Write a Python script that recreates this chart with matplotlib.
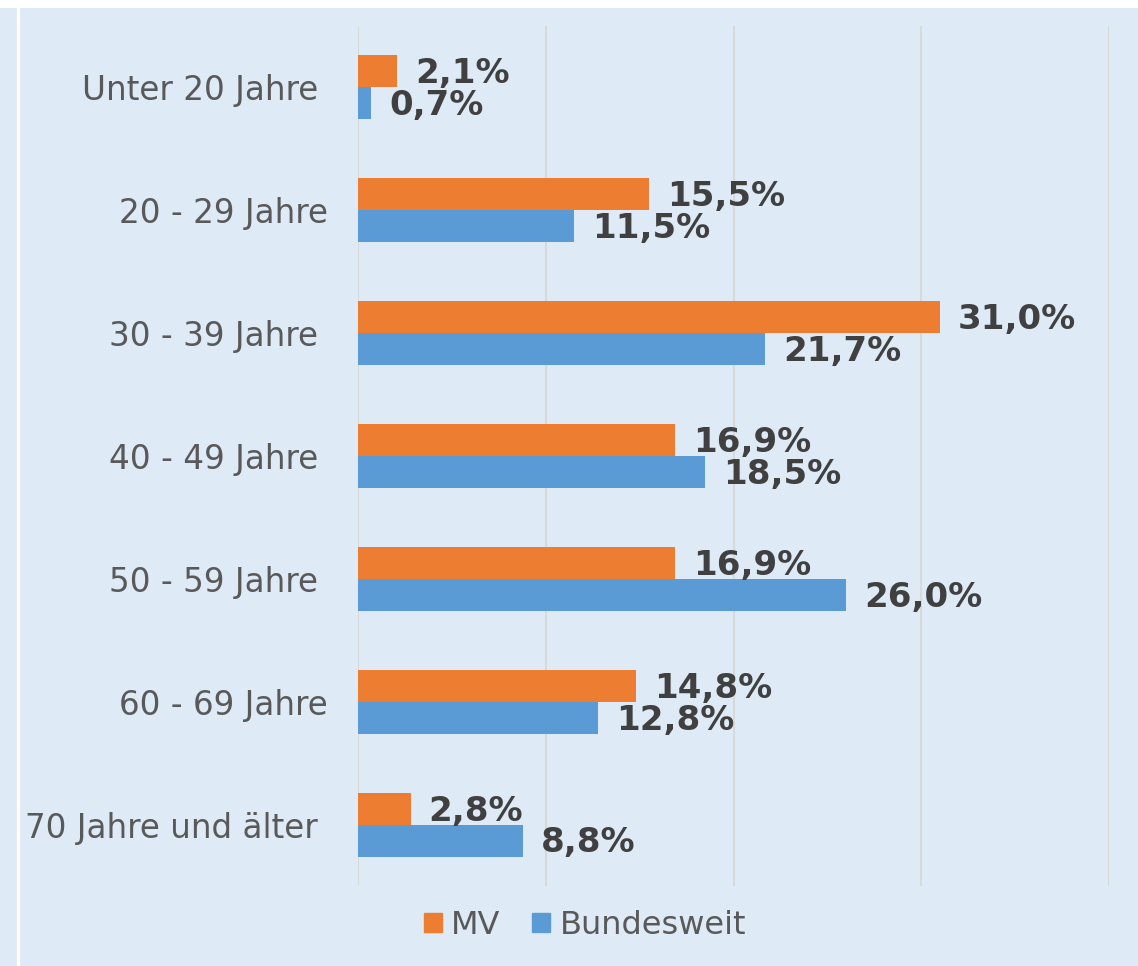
import numpy as np
import matplotlib
matplotlib.use('Agg')
import matplotlib.pyplot as plt
from matplotlib.patches import Patch

categories = ['Unter 20 Jahre ', '20 - 29 Jahre', '30 - 39 Jahre ', '40 - 49 Jahre ',
              '50 - 59 Jahre ', '60 - 69 Jahre', '70 Jahre und älter ']
mv = [2.1, 15.5, 31.0, 16.9, 16.9, 14.8, 2.8]
bundesweit = [0.7, 11.5, 21.7, 18.5, 26.0, 12.8, 8.8]
series_names = ['MV', 'Bundesweit']

bg = '#DEEAF6'
orange = '#ED7D31'
blue = '#5B9BD5'
txt = '#595959'
lbl = '#404040'

W, H = 1138, 966
fig = plt.figure(figsize=(W / 100, H / 100), dpi=100)
fig.patch.set_facecolor(bg)
# white strip on top and white line at left like the source
fig.patches.append(plt.Rectangle((0, (H - 8) / H), 1, 8 / H, transform=fig.transFigure,
                                 facecolor='white', edgecolor='none', zorder=-5))
fig.lines.append(plt.Line2D([18 / W, 18 / W], [0, 1], transform=fig.transFigure,
                            color='white', lw=2.5, zorder=-5))

ax = fig.add_axes([358 / W, (H - 886) / H, (1109 - 358) / W, (886 - 26) / H])
ax.set_facecolor('none')

y = np.arange(len(categories))
h = 0.26
ax.barh(y - h / 2, mv, height=h, color=orange, zorder=3)
ax.barh(y + h / 2, bundesweit, height=h, color=blue, zorder=3)

for i in range(len(categories)):
    ax.text(mv[i] + 0.95, y[i] - h / 2 + 0.02, f'{mv[i]:.1f}%'.replace('.', ','),
            va='center', ha='left', fontsize=24.5, fontweight='bold', color=lbl)
    ax.text(bundesweit[i] + 0.95, y[i] + h / 2 + 0.02, f'{bundesweit[i]:.1f}%'.replace('.', ','),
            va='center', ha='left', fontsize=24.5, fontweight='bold', color=lbl)

ax.set_xlim(0, 40)
ax.set_ylim(len(categories) - 0.5, -0.5)
ax.set_xticks([0, 10, 20, 30, 40])
ax.xaxis.grid(True, color='#D9D9D9', lw=1.5, zorder=0)
ax.set_axisbelow(True)
ax.tick_params(axis='x', length=0, labelbottom=False)
ax.tick_params(axis='y', length=0, pad=21.5, labelsize=23.5, labelcolor=txt)
ax.set_yticks(y)
ax.set_yticklabels(categories)
for s in ax.spines.values():
    s.set_visible(False)

handles = [Patch(color=orange), Patch(color=blue)]
fig.legend(handles, series_names, loc='center', bbox_to_anchor=(585 / W, 1 - 925 / H),
           ncol=2, frameon=False, fontsize=23, labelcolor=txt, handlelength=0.55,
           handleheight=0.55, handletextpad=0.3, columnspacing=1.0)

fig.savefig('out.png', dpi=100, facecolor=fig.get_facecolor())
